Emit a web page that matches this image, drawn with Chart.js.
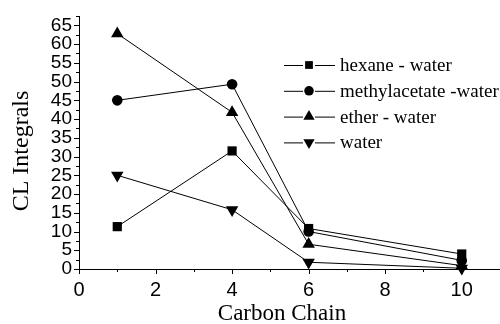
<!DOCTYPE html>
<html>
<head>
<meta charset="utf-8">
<script src="https://cdn.jsdelivr.net/npm/chart.js@4/dist/chart.umd.min.js"></script>
<style>
html,body{margin:0;padding:0;background:#fff;}
#wrap{width:500px;height:324px;position:relative;}
</style>
</head>
<body>
<div id="wrap"><canvas id="c" width="500" height="324"></canvas></div>
<script>
// ---- data ----
const carbonChain = [1, 4, 6, 10];
const hexaneWater = [11.3, 31.5, 10.8, 4.0];
const methylacetateWater = [45.0, 49.3, 10.0, 2.3];
const etherWater = [62.8, 41.8, 6.6, 0.9];
const water = [25.0, 15.8, 1.8, 0.2];
const seriesLabels = ['hexane - water', 'methylacetate -water', 'ether - water', 'water'];
const yTickLabels = [0, 5, 10, 15, 20, 25, 30, 35, 40, 45, 50, 55, 60, 65];
const xTickLabels = [0, 2, 4, 6, 8, 10];
const xTitle = 'Carbon Chain';
const yTitle = 'CL Integrals';

const styles = [
  {pointStyle: 'rect', radius: 6.5, rotation: 0},
  {pointStyle: 'circle', radius: 5.3, rotation: 0},
  {pointStyle: 'triangle', radius: 7.2, rotation: 0},
  {pointStyle: 'triangle', radius: 7.2, rotation: 180}
];
const seriesValues = [hexaneWater, methylacetateWater, etherWater, water];

const datasets = seriesValues.map((vals, i) => ({
  label: seriesLabels[i],
  data: carbonChain.map((x, j) => ({x: x, y: vals[j]})),
  borderColor: '#000',
  backgroundColor: '#000',
  borderWidth: 1,
  pointStyle: styles[i].pointStyle,
  pointRadius: styles[i].radius,
  pointRotation: styles[i].rotation,
  pointBackgroundColor: '#000',
  pointBorderColor: '#000',
  pointBorderWidth: 0,
  pointHoverRadius: styles[i].radius,
  showLine: true,
  clip: false,
  tension: 0
}));

const tickPlugin = {
  id: 'minorTicks',
  afterDraw(chart) {
    const ctx = chart.ctx;
    const xs = chart.scales.x, ys = chart.scales.y;
    const area = chart.chartArea;
    ctx.save();
    ctx.strokeStyle = '#000';
    ctx.lineWidth = 1;
    ctx.beginPath();
    for (let v = 0; v <= ys.max + 1e-6; v += 2.5) {
      const p = Math.round(ys.getPixelForValue(v)) + 0.5;
      const major = Math.abs(v % 5) < 1e-6;
      ctx.moveTo(area.left, p);
      ctx.lineTo(area.left - (major ? 5 : 3), p);
    }
    for (let v = 0; v <= xs.max + 1e-6; v += 1) {
      const p = Math.round(xs.getPixelForValue(v)) + 0.5;
      const major = v % 2 === 0;
      ctx.moveTo(p, area.bottom);
      ctx.lineTo(p, area.bottom + (major ? 5 : 3));
    }
    ctx.stroke();
    // axis titles
    ctx.fillStyle = '#000';
    ctx.textAlign = 'center';
    ctx.textBaseline = 'alphabetic';
    ctx.font = '23px "Liberation Serif", "Times New Roman", serif';
    ctx.fillText(xTitle, 282, 320);
    ctx.translate(28, 151);
    ctx.rotate(-Math.PI / 2);
    ctx.font = '24px "Liberation Serif", "Times New Roman", serif';
    ctx.fillText(yTitle, 0, 0);
    ctx.restore();
  }
};

const legendPlugin = {
  id: 'originLegend',
  afterDraw(chart) {
    const ctx = chart.ctx;
    ctx.save();
    ctx.strokeStyle = '#000';
    ctx.fillStyle = '#000';
    ctx.lineWidth = 1;
    ctx.font = '19px "Liberation Serif", "Times New Roman", serif';
    ctx.textBaseline = 'middle';
    ctx.textAlign = 'left';
    const x0 = 284, xm = 309, x1 = 335, xt = 340;
    const y0 = 65, dy = 25.8;
    chart.data.datasets.forEach((ds, i) => {
      const y = y0 + i * dy;
      ctx.beginPath();
      ctx.moveTo(x0, y + 0.5); ctx.lineTo(xm - 6, y + 0.5);
      ctx.moveTo(xm + 6, y + 0.5); ctx.lineTo(x1, y + 0.5);
      ctx.stroke();
      const r = styles[i].pointStyle === 'triangle' ? 6.5 : (styles[i].pointStyle === 'rect' ? 5.5 : 4.8);
      Chart.helpers.drawPoint(ctx, {pointStyle: styles[i].pointStyle, radius: r, rotation: styles[i].rotation, borderWidth: 0}, xm, y);
      ctx.fillText(ds.label, xt, y + 1);
    });
    ctx.restore();
  }
};

new Chart(document.getElementById('c'), {
  type: 'scatter',
  data: {datasets: datasets},
  options: {
    responsive: false,
    animation: false,
    devicePixelRatio: 1,
    layout: {autoPadding: false, padding: {top: 16, right: 0, left: 0, bottom: 0}},
    plugins: {legend: {display: false}, tooltip: {enabled: false}},
    scales: {
      x: {
        type: 'linear',
        min: 0, max: 11,
        afterFit(scale) { scale.height = 55; scale.paddingLeft = 0; scale.paddingRight = 0; },
        grid: {display: false, drawTicks: true, tickLength: 5},
        border: {display: true, color: '#000', width: 1},
        ticks: {
          stepSize: 1, autoSkip: false, maxRotation: 0, padding: 4,
          color: '#000',
          font: {family: '"Liberation Sans", Arial, sans-serif', size: 20},
          callback: (v) => xTickLabels.includes(v) ? String(v) : ''
        },
        title: {display: false}
      },
      y: {
        type: 'linear',
        min: 0, max: 67.5,
        afterFit(scale) { scale.width = 79; scale.paddingTop = 0; scale.paddingBottom = 0; },
        grid: {display: false, drawTicks: true, tickLength: 5},
        border: {display: true, color: '#000', width: 1},
        ticks: {
          stepSize: 2.5, autoSkip: false, padding: 2,
          color: '#000',
          font: {family: '"Liberation Sans", Arial, sans-serif', size: 19},
          callback: (v) => yTickLabels.includes(v) ? String(v) : ''
        },
        title: {display: false}
      }
    }
  },
  plugins: [tickPlugin, legendPlugin]
});
</script>
</body>
</html>
